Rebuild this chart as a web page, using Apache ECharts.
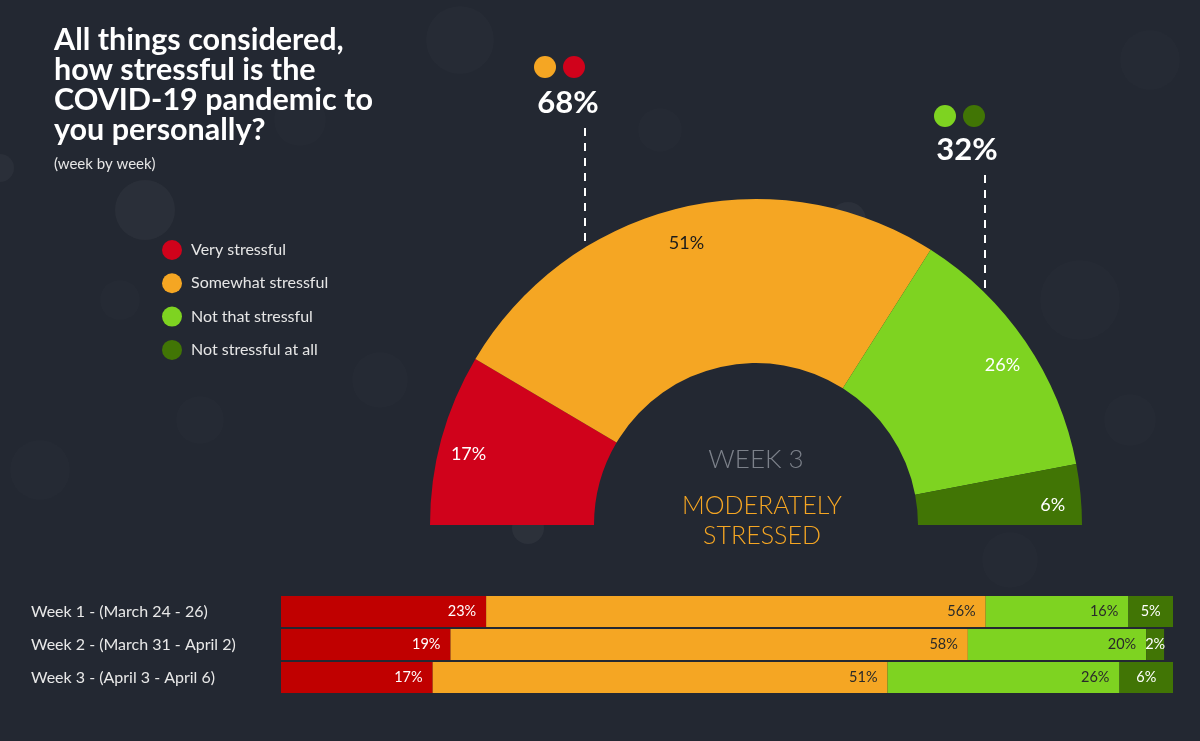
<!DOCTYPE html>
<html>
<head>
<meta charset="utf-8">
<script src="https://cdn.jsdelivr.net/npm/echarts@6/dist/echarts.min.js"></script>
<style>
html,body{margin:0;padding:0;background:#232832;}
#chart{width:1200px;height:741px;}
</style>
</head>
<body>
<div id="chart"></div>
<script>
// ---- data ----
const categories = ['Very stressful', 'Somewhat stressful', 'Not that stressful', 'Not stressful at all'];
const weeks = ['Week 1 - (March 24 - 26)', 'Week 2 - (March 31 - April 2)', 'Week 3 - (April 3 - April 6)'];
const veryStressful = [23, 19, 17];
const somewhatStressful = [56, 58, 51];
const notThatStressful = [16, 20, 26];
const notAtAll = [5, 2, 6];
const gaugeWeek = 'WEEK 3';
const gaugeVerdict = 'MODERATELY\nSTRESSED';

// ---- styles ----
const pieColors = ['#d0021b', '#f5a623', '#7ed321', '#417505'];
const barColors = ['#c00000', '#f5a623', '#7ed321', '#417505'];
const pieLabelColors = ['#ffffff', '#1b1b1b', '#ffffff', '#ffffff'];
const barLabelColors = ['#ffffff', '#2a2a2a', '#2a2a2a', '#ffffff'];
const FONT = 'Lato, "Open Sans", sans-serif';

const w3 = [veryStressful[2], somewhatStressful[2], notThatStressful[2], notAtAll[2]];
const stressedTotal = w3[0] + w3[1];
const notStressedTotal = w3[2] + w3[3];

const total = w3.reduce((a, b) => a + b, 0);
function pieData(withLabels) {
  const d = w3.map((v, i) => ({
    name: categories[i],
    value: v,
    itemStyle: { color: withLabels ? 'transparent' : pieColors[i] },
    label: { color: pieLabelColors[i] }
  }));
  d.push({ name: 'hidden', value: total, itemStyle: { color: 'transparent' }, label: { show: false } });
  return d;
}

const barSeriesData = [veryStressful, somewhatStressful, notThatStressful, notAtAll];

const chart = echarts.init(document.getElementById('chart'));

// faint decorative bubbles
const bubbles = [
  [145, 210, 30, 0.035], [0, 168, 14, 0.035], [528, 528, 16, 0.045], [848, 220, 18, 0.04],
  [460, 40, 34, 0.015], [300, 120, 26, 0.012], [1080, 300, 40, 0.012], [1150, 60, 30, 0.012],
  [200, 420, 24, 0.012], [380, 380, 28, 0.012], [660, 130, 22, 0.012], [1130, 420, 26, 0.012],
  [40, 470, 30, 0.01], [1010, 560, 28, 0.012], [120, 300, 20, 0.012]
].map(b => ({
  type: 'circle', silent: true, z: -10,
  shape: { cx: b[0], cy: b[1], r: b[2] },
  style: { fill: 'rgba(255,255,255,' + b[3] + ')' }
}));

const option = {
  backgroundColor: '#232832',
  animation: false,
  textStyle: { fontFamily: FONT },
  title: [
    {
      text: 'All things considered,\nhow stressful is the\nCOVID-19 pandemic to\nyou personally?',
      left: 54, top: 25, padding: 0,
      textStyle: { color: '#ffffff', fontSize: 30.5, fontWeight: 'bold', lineHeight: 30, fontFamily: FONT }
    },
    {
      text: '(week by week)',
      left: 54, top: 157, padding: 0,
      textStyle: { color: '#e6e6e6', fontSize: 15, fontWeight: 'normal', fontFamily: FONT }
    }
  ],
  legend: {
    orient: 'vertical',
    left: 157, top: 235,
    itemWidth: 20, itemHeight: 20, itemGap: 13.3,
    icon: 'circle',
    textStyle: { color: '#e6e6e6', fontSize: 16, fontFamily: FONT, padding: [0, 0, 0, 4] },
    selectedMode: false,
    data: categories.map((c, i) => ({ name: c, itemStyle: { color: pieColors[i] } }))
  },
  grid: { left: 281, right: 27, top: 595, height: 99 },
  xAxis: { type: 'value', min: 0, max: 100, show: false },
  yAxis: {
    type: 'category', data: weeks, inverse: true,
    axisLine: { show: false }, axisTick: { show: false },
    axisLabel: { color: '#e8e8e8', fontSize: 16, align: 'left', margin: 250, fontFamily: FONT }
  },
  series: [
    {
      type: 'pie', silent: true,
      center: [756, 525], radius: [162, 326],
      startAngle: 180, clockwise: true,
      label: { show: false }, labelLine: { show: false },
      emphasis: { disabled: true },
      data: pieData(false)
    },
    {
      type: 'pie', silent: true,
      center: [756, 525], radius: [264, 326],
      startAngle: 180, clockwise: true,
      label: { show: true, position: 'inside', formatter: '{c}%', fontSize: 18, fontFamily: FONT, offset: [0, 8] },
      labelLine: { show: false },
      emphasis: { disabled: true },
      data: pieData(true)
    }
  ].concat(categories.map((c, i) => ({
    type: 'bar', name: c, stack: 'total',
    barWidth: 31,
    data: barSeriesData[i],
    itemStyle: { color: barColors[i] },
    label: {
      show: true, position: i === 3 ? 'inside' : 'insideRight', distance: 10,
      formatter: '{c}%', color: barLabelColors[i], fontSize: 14.5, fontFamily: FONT
    },
    emphasis: { disabled: true }
  }))),
  graphic: bubbles.concat([
    { type: 'circle', shape: { cx: 545, cy: 67, r: 11 }, style: { fill: pieColors[1] } },
    { type: 'circle', shape: { cx: 574, cy: 67, r: 11 }, style: { fill: pieColors[0] } },
    { type: 'text', x: 568, y: 103, style: { text: stressedTotal + '%', fill: '#ffffff', font: 'bold 31px ' + FONT, align: 'center', verticalAlign: 'middle' } },
    { type: 'line', shape: { x1: 585, y1: 128, x2: 585, y2: 252 }, style: { stroke: '#ffffff', lineWidth: 2, lineDash: [8, 7] } },
    { type: 'circle', shape: { cx: 945, cy: 116, r: 11 }, style: { fill: pieColors[2] } },
    { type: 'circle', shape: { cx: 974, cy: 116, r: 11 }, style: { fill: pieColors[3] } },
    { type: 'text', x: 967, y: 150, style: { text: notStressedTotal + '%', fill: '#ffffff', font: 'bold 31px ' + FONT, align: 'center', verticalAlign: 'middle' } },
    { type: 'line', shape: { x1: 985, y1: 175, x2: 985, y2: 299 }, style: { stroke: '#ffffff', lineWidth: 2, lineDash: [8, 7] } },
    { type: 'text', x: 756, y: 460, style: { text: gaugeWeek, fill: '#7c818a', font: '300 26px ' + FONT, align: 'center', verticalAlign: 'middle' } },
    { type: 'text', x: 762, y: 521, style: { text: gaugeVerdict, fill: '#f5a623', font: '300 25px ' + FONT, align: 'center', verticalAlign: 'middle', lineHeight: 30 } }
  ])
};
chart.setOption(option);
</script>
</body>
</html>
